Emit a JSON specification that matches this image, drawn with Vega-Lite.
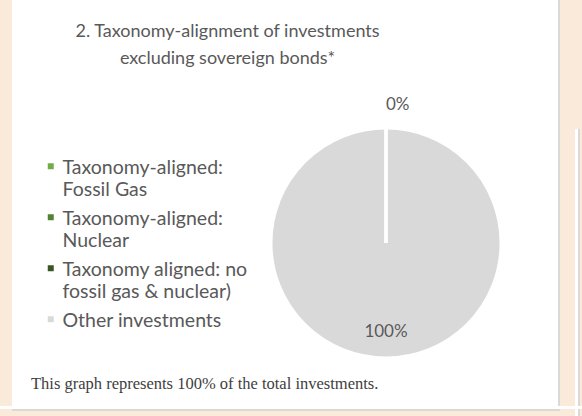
{
  "$schema": "https://vega.github.io/schema/vega-lite/v6.json",
  "background": "white",
  "padding": 0,
  "spacing": 0,
  "config": {
    "view": {"stroke": null},
    "font": "Lato",
    "style": {"guide-label": {"lineHeight": 22}}
  },
  "datasets": {
    "pie": [
      {"category": "Other investments", "value": 100, "label": "100%"},
      {"category": "Taxonomy-aligned: Fossil Gas", "value": 0, "label": "0%"},
      {"category": "Taxonomy-aligned: Nuclear", "value": 0, "label": "0%"},
      {"category": "Taxonomy aligned: no fossil gas & nuclear)", "value": 0, "label": "0%"}
    ],
    "blank": []
  },
  "resolve": {"scale": {"color": "independent", "theta": "independent"}, "legend": {"color": "independent"}},
  "vconcat": [
    {
      "spacing": 0,
      "resolve": {"scale": {"color": "independent", "theta": "independent"}, "legend": {"color": "independent"}},
      "hconcat": [
        {"width": 12, "height": 406, "view": {"fill": "#FAEAD9"}, "data": {"name": "blank"}, "mark": "text", "encoding": {}},
        {
          "spacing": 0,
          "resolve": {"scale": {"color": "independent", "theta": "independent"}, "legend": {"color": "independent"}},
          "vconcat": [
            {"width": 286, "height": 23, "data": {"name": "blank"}, "mark": "text", "encoding": {}},
            {
              "resolve": {"scale": {"color": "independent", "theta": "independent"}, "legend": {"color": "independent"}},
              "title": {
                "text": ["2. Taxonomy-alignment of investments", "excluding sovereign bonds*"],
                "anchor": "middle", "dx": -32, "offset": 28,
                "font": "Lato", "fontSize": 18, "fontWeight": "normal", "color": "#595959", "lineHeight": 27
              },
              "vconcat": [
                {
                  "width": 228,
                  "height": 228,
                  "data": {"name": "pie"},
                  "title": {
                    "text": "This graph represents 100% of the total investments.",
                    "orient": "bottom", "anchor": "start", "frame": "bounds", "dx": 19, "offset": 12,
                    "font": "Liberation Serif", "fontSize": 16.5, "fontWeight": "normal", "color": "#404040"
                  },
                  "encoding": {
                    "theta": {"field": "value", "type": "quantitative", "stack": true}
                  },
                  "layer": [
                    {
                      "mark": {"type": "arc", "outerRadius": 115, "stroke": "white", "strokeWidth": 3},
                      "encoding": {
                        "color": {
                          "field": "category", "type": "nominal",
                          "scale": {
                            "domain": ["Taxonomy-aligned: Fossil Gas", "Taxonomy-aligned: Nuclear", "Taxonomy aligned: no fossil gas & nuclear)", "Other investments"],
                            "range": ["#70AD47", "#548235", "#375623", "#D9D9D9"]
                          },
                          "legend": {
                            "orient": "left", "title": " ", "titleOrient": "left", "titleFontSize": 10, "titlePadding": 9,
                            "padding": 20, "offset": 4,
                            "symbolType": "M-1,1.5H1V3.5H-1Z", "symbolSize": 36, "symbolStrokeWidth": 0,
                            "labelFont": "Lato", "labelFontSize": 19.5, "labelColor": "#595959",
                            "labelBaseline": "top", "labelOffset": 2, "labelLimit": 400, "rowPadding": 0,
                            "labelExpr": "split(replace(replace(datum.label, ': no ', ': no|'), '-aligned: ', '-aligned:|'), '|')"
                          }
                        }
                      }
                    },
                    {
                      "transform": [{"filter": "datum.category == 'Taxonomy-aligned: Fossil Gas'"}],
                      "mark": {"type": "text", "radius": 138, "align": "left", "font": "Lato", "fontSize": 17, "color": "#595959"},
                      "encoding": {"text": {"field": "label"}}
                    },
                    {
                      "transform": [{"filter": "datum.value > 0"}],
                      "mark": {"type": "text", "radius": 89, "align": "center", "font": "Lato", "fontSize": 17, "color": "#595959"},
                      "encoding": {"text": {"field": "label"}}
                    }
                  ]
                }
              ]
            },
            {"width": 286, "height": 16, "data": {"name": "blank"}, "mark": "text", "encoding": {}}
          ]
        },
        {"width": 2, "height": 406, "view": {"fill": "#D9D9D9"}, "data": {"name": "blank"}, "mark": "text", "encoding": {}},
        {"width": 15, "height": 406, "view": {"fill": "#FAEAD9"}, "data": {"name": "blank"}, "mark": "text", "encoding": {}},
        {
          "spacing": 0,
          "vconcat": [
            {"width": 3, "height": 129, "view": {"fill": "#FAEAD9"}, "data": {"name": "blank"}, "mark": "text", "encoding": {}},
            {"width": 3, "height": 277, "view": {"fill": "white"}, "data": {"name": "blank"}, "mark": "text", "encoding": {}}
          ]
        },
        {
          "spacing": 0,
          "vconcat": [
            {"width": 2, "height": 129, "view": {"fill": "#FAEAD9"}, "data": {"name": "blank"}, "mark": "text", "encoding": {}},
            {"width": 2, "height": 277, "view": {"fill": "#D9D9D9"}, "data": {"name": "blank"}, "mark": "text", "encoding": {}}
          ]
        },
        {"width": 2, "height": 406, "view": {"fill": "#FAEAD9"}, "data": {"name": "blank"}, "mark": "text", "encoding": {}}
      ]
    },
    {
      "spacing": 0,
      "hconcat": [
        {"width": 12, "height": 10, "view": {"fill": "#FAEAD9"}, "data": {"name": "blank"}, "mark": "text", "encoding": {}},
        {
          "spacing": 0,
          "vconcat": [
            {"width": 548, "height": 2, "view": {"fill": "#D9D9D9"}, "data": {"name": "blank"}, "mark": "text", "encoding": {}},
            {"width": 548, "height": 8, "view": {"fill": "#FAEAD9"}, "data": {"name": "blank"}, "mark": "text", "encoding": {}}
          ]
        },
        {"width": 15, "height": 10, "view": {"fill": "#FAEAD9"}, "data": {"name": "blank"}, "mark": "text", "encoding": {}},
        {"width": 3, "height": 10, "view": {"fill": "white"}, "data": {"name": "blank"}, "mark": "text", "encoding": {}},
        {"width": 2, "height": 10, "view": {"fill": "#D9D9D9"}, "data": {"name": "blank"}, "mark": "text", "encoding": {}},
        {"width": 2, "height": 10, "view": {"fill": "#FAEAD9"}, "data": {"name": "blank"}, "mark": "text", "encoding": {}}
      ]
    }
  ]
}
